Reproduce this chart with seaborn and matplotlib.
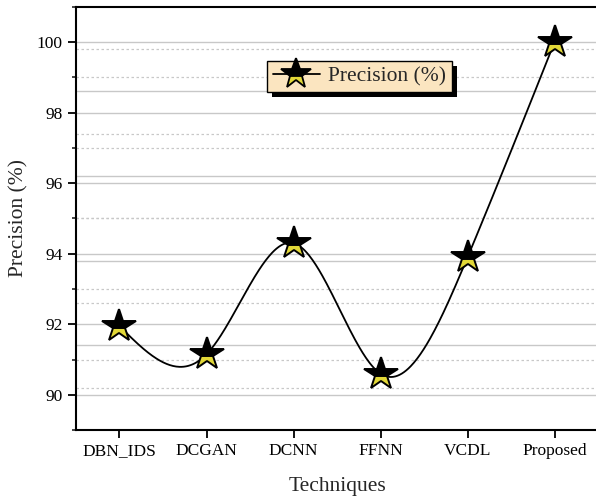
import numpy as np
import pandas as pd
import matplotlib
matplotlib.use("Agg")
import matplotlib.pyplot as plt
from matplotlib.lines import Line2D
from matplotlib.patches import Rectangle
from matplotlib.transforms import IdentityTransform
import seaborn as sns

# Data
techniques = ["DBN_IDS", "DCGAN", "DCNN", "FFNN", "VCDL", "Proposed"]
precision = [91.95, 91.15, 94.3, 90.6, 93.9, 100.0]
y_ticks = [90, 92, 94, 96, 98, 100]

sns.set_theme(style="white")
plt.rcParams["font.family"] = ["Liberation Serif", "DejaVu Serif"]
plt.rcParams["mathtext.fontset"] = "stix"


def natural_spline(x, y, n=400):
    """Natural cubic spline through (x, y), sampled densely for a smooth line."""
    x = np.asarray(x, float)
    y = np.asarray(y, float)
    m = len(x)
    h = np.diff(x)
    A = np.zeros((m, m))
    b = np.zeros(m)
    A[0, 0] = A[-1, -1] = 1.0
    for i in range(1, m - 1):
        A[i, i - 1] = h[i - 1]
        A[i, i] = 2 * (h[i - 1] + h[i])
        A[i, i + 1] = h[i]
        b[i] = 6 * ((y[i + 1] - y[i]) / h[i] - (y[i] - y[i - 1]) / h[i - 1])
    M = np.linalg.solve(A, b)
    xs = np.linspace(x[0], x[-1], n)
    idx = np.clip(np.searchsorted(x, xs) - 1, 0, m - 2)
    x0, x1 = x[idx], x[idx + 1]
    hi = x1 - x0
    t0, t1 = x1 - xs, xs - x0
    ys = (M[idx] * t0 ** 3 / (6 * hi) + M[idx + 1] * t1 ** 3 / (6 * hi)
          + (y[idx] / hi - M[idx] * hi / 6) * t0
          + (y[idx + 1] / hi - M[idx + 1] * hi / 6) * t1)
    return xs, ys


pos = np.arange(len(techniques))
df = pd.DataFrame({"pos": pos, "Precision": precision})
sx, sy = natural_spline(pos, precision)
curve = pd.DataFrame({"pos": sx, "Precision": sy})

fig = plt.figure(figsize=(5.96, 4.97), dpi=100)
ax = fig.add_axes([0.1275, 0.1345, 0.876, 0.852])

# Grid: regular major/minor lines plus an offset secondary set
for v in np.arange(90, 101, 2):
    ax.axhline(v, color="#c8c8c8", lw=1.0, zorder=0)
for v in np.arange(91, 101, 2):
    ax.axhline(v, color="#c8c8c8", lw=0.9, ls=(0, (2, 2)), zorder=0)
for v in np.arange(91.4, 100.5, 2.4):
    ax.axhline(v, color="#c8c8c8", lw=1.0, zorder=0)
for v in np.arange(90.2, 100.5, 2.4):
    ax.axhline(v, color="#c8c8c8", lw=0.9, ls=(0, (2, 2)), zorder=0)

star_yellow = "#e2d838"
star_size = 25
sns.lineplot(data=curve, x="pos", y="Precision", ax=ax, color="black",
             lw=1.3, zorder=3)
sns.lineplot(data=df, x="pos", y="Precision", ax=ax, color="black",
             linestyle="", marker="*", markersize=star_size, fillstyle="top",
             markerfacecoloralt=star_yellow, markeredgecolor="black",
             markeredgewidth=1.4, zorder=4)

ax.set_xlim(-0.5, 5.5)
ax.set_ylim(89, 101)
ax.set_xticks(pos)
ax.set_xticklabels(techniques)
ax.set_yticks(y_ticks)
ax.set_yticks(np.arange(89, 101.5, 1), minor=True)
ax.set_xlabel("Techniques", fontsize=15.5, labelpad=13)
ax.set_ylabel("Precision (%)", fontsize=15.5, labelpad=6)

ax.tick_params(axis="both", which="major", direction="out", length=5.5,
               width=1.3, labelsize=12.5, colors="black", bottom=True,
               left=True, pad=4)
ax.tick_params(axis="y", which="minor", direction="out", length=3,
               width=1.2, left=True)
for side in ["left", "bottom", "top"]:
    ax.spines[side].set_color("black")
    ax.spines[side].set_linewidth(1.5)
ax.spines["right"].set_visible(False)

handle = Line2D([], [], color="black", lw=1.3, marker="*",
                markersize=star_size - 2, fillstyle="top",
                markerfacecolor="black", markerfacecoloralt=star_yellow,
                markeredgecolor="black", markeredgewidth=1.3)
leg = ax.legend([handle], ["Precision (%)"], loc="center",
                bbox_to_anchor=(0.543, 0.835), fontsize=15.5, frameon=True,
                fancybox=False, handlelength=2.2, handletextpad=0.4,
                borderpad=0.25, borderaxespad=0)
leg.get_frame().set_facecolor("#fbe5c0")
leg.get_frame().set_edgecolor("black")
leg.get_frame().set_linewidth(1.0)
leg.get_frame().set_alpha(1)

# Solid drop shadow behind the legend box
fig.canvas.draw()
bb = leg.get_window_extent()
shadow = Rectangle((bb.x0 + 5, bb.y0 - 5), bb.width, bb.height,
                   transform=IdentityTransform(), facecolor="black",
                   edgecolor="none", zorder=leg.get_zorder() - 0.1,
                   clip_on=False)
ax.add_artist(shadow)

fig.savefig("out.png", dpi=100)
